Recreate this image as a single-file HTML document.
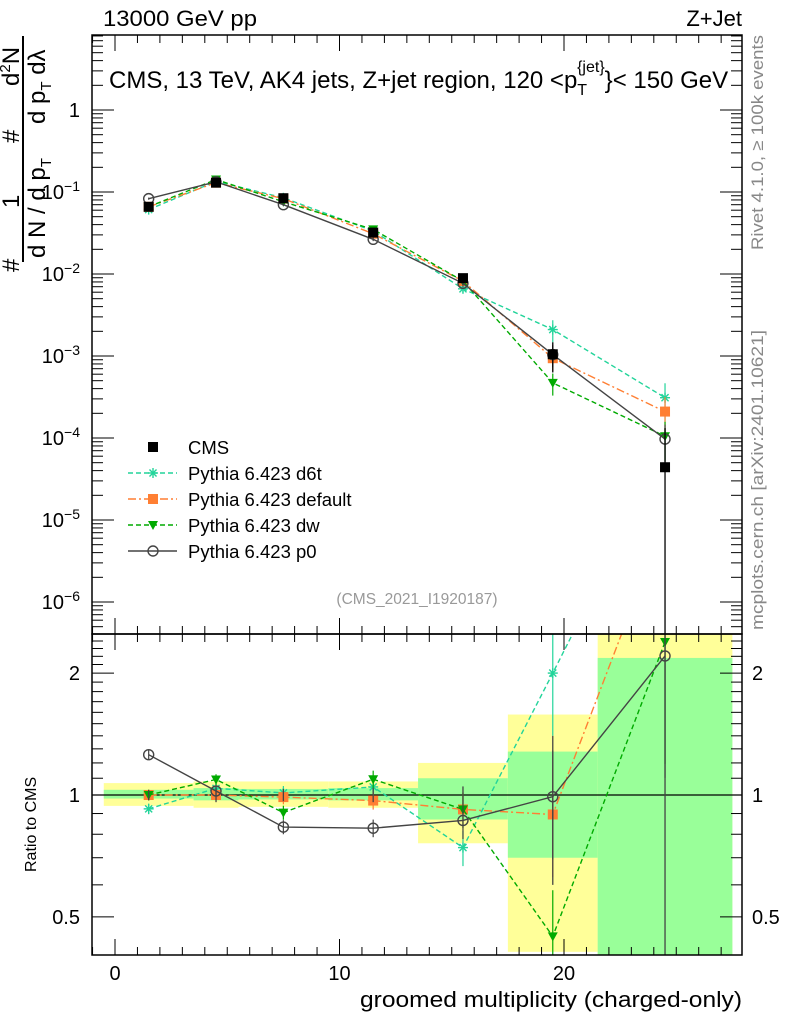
<!DOCTYPE html>
<html><head><meta charset="utf-8"><style>
body{margin:0;background:#fff;}
svg{display:block;font-family:"Liberation Sans",sans-serif;}
</style></head><body>
<svg id="chart" width="786" height="1024" viewBox="0 0 786 1024" xmlns="http://www.w3.org/2000/svg">
<g id="bands"></g>
<g id="marks"></g>
<g id="axes"></g>
<text x="103" y="26" font-size="22" textLength="154" lengthAdjust="spacingAndGlyphs">13000 GeV pp</text>
<text x="742" y="26" font-size="22" text-anchor="end">Z+Jet</text>
<text x="109" y="88" font-size="24">CMS, 13 TeV, AK4 jets, Z+jet region, 120 &lt;p<tspan font-size="16" dy="7">T</tspan><tspan font-size="16" dx="-10" dy="-23">{jet}</tspan><tspan dy="16">}&lt; 150 GeV</tspan></text>
<text x="417" y="604" font-size="15.5" fill="#999" text-anchor="middle">(CMS_2021_I1920187)</text>
<text transform="translate(763,250) rotate(-90)" font-size="17" fill="#888" textLength="215" lengthAdjust="spacingAndGlyphs">Rivet 4.1.0, ≥ 100k events</text>
<text transform="translate(763,630) rotate(-90)" font-size="17" fill="#888" textLength="300" lengthAdjust="spacingAndGlyphs">mcplots.cern.ch [arXiv:2401.10621]</text>
<g font-size="24">
<line x1="23" y1="36" x2="23" y2="262" stroke="#000" stroke-width="2"/>
<text transform="translate(19,272) rotate(-90)">#</text>
<text transform="translate(19,208) rotate(-90)">1</text>
<text transform="translate(19,143) rotate(-90)">#</text>
<text transform="translate(19,86) rotate(-90)">d<tspan font-size="15" dy="-9">2</tspan><tspan dy="9">N</tspan></text>
<text transform="translate(45,258) rotate(-90)">d N / d p<tspan font-size="15" dy="6">T</tspan></text>
<text transform="translate(45,124) rotate(-90)">d p<tspan font-size="15" dy="6">T</tspan><tspan dy="-6"> dλ</tspan></text>
</g>
<text transform="translate(36,872) rotate(-90)" font-size="16">Ratio to CMS</text>
<text x="742" y="1007" font-size="22" text-anchor="end" textLength="382" lengthAdjust="spacingAndGlyphs">groomed multiplicity (charged-only)</text>
<g id="legend"></g>
</svg>
<script>
const binCenters=[1.5,4.5,7.5,11.5,15.5,19.5,24.5];
const binEdges=[-0.5,3.5,5.5,9.5,13.5,17.5,21.5,27.5];
const cms=[0.066,0.13,0.084,0.032,0.0089,0.00105,4.4e-5];
const cmsRelErr=[0.03,0.04,0.035,0.04,0.05,0.4,2.0];
const d6t=[0.061,0.135,0.085,0.0335,0.0066,0.0021,3.1e-4];
const def=[0.066,0.13,0.083,0.031,0.0082,0.00094,2.1e-4];
const dw=[0.066,0.142,0.076,0.035,0.0082,0.00047,1.05e-4];
const p0=[0.083,0.133,0.07,0.0265,0.0077,0.00104,9.7e-5];
const mcRelErr=[0.03,0.03,0.04,0.05,0.1,0.3,0.5];
const yellowHi=[1.07,1.08,1.08,1.08,1.2,1.58,2.6];
const yellowLo=[0.94,0.93,0.935,0.93,0.76,0.41,0.3];
const greenHi=[1.03,1.04,1.035,1.04,1.1,1.28,2.18];
const greenLo=[0.98,0.97,0.975,0.97,0.87,0.70,0.3];
const xTicks=[0,10,20];
const yTickExp=[0,-1,-2,-3,-4,-5,-6];
const rTicks=[0.5,1,2];

const NS="http://www.w3.org/2000/svg";
const L=92,R=742,T=35,M=634,B=955;
const X=v=>115+v*22.45;
const Y=v=>110-Math.log10(v)*82;
const RY=v=>795-Math.log10(v)*405;
function mk(p,t,a){const e=document.createElementNS(NS,t);for(const k in a)e.setAttribute(k,a[k]);p.appendChild(e);return e;}
const bands=document.getElementById('bands'),marks=document.getElementById('marks'),axes=document.getElementById('axes'),leg=document.getElementById('legend');
const clipR=v=>Math.max(M,Math.min(B,v));
for(let i=0;i<binCenters.length;i++){
 const x0=X(binEdges[i]),x1=X(binEdges[i+1]);
 let y0=clipR(RY(yellowHi[i])),y1=clipR(RY(yellowLo[i]));
 const yb=mk(bands,'rect',{x:x0,y:y0,width:x1-x0,height:y1-y0,fill:'#ffff99'});
 
 
 y0=clipR(RY(greenHi[i]));y1=clipR(RY(greenLo[i]));
 const gb=mk(bands,'rect',{x:x0,y:y0,width:x1-x0,height:y1-y0,fill:'#99ff99'});
 
 
}
const defs=mk(document.getElementById('chart'),'defs',{});
const c1=mk(defs,'clipPath',{id:'cu'});mk(c1,'rect',{x:L,y:T,width:R-L,height:M-T});
const c2=mk(defs,'clipPath',{id:'cl'});mk(c2,'rect',{x:L,y:M,width:R-L,height:B-M});
const gu=mk(marks,'g',{'clip-path':'url(#cu)'});
const gl=mk(marks,'g',{'clip-path':'url(#cl)'});
mk(gl,'line',{x1:L,x2:R,y1:RY(1),y2:RY(1),stroke:'#000','stroke-width':1.3});
function marker(g,type,x,y,col){
 if(type==='sq')mk(g,'rect',{x:x-5,y:y-5,width:10,height:10,fill:col});
 else if(type==='tri')mk(g,'path',{d:`M${x-5},${y-4}L${x+5},${y-4}L${x},${y+5}Z`,fill:col});
 else if(type==='circ')mk(g,'circle',{cx:x,cy:y,r:5,fill:'none',stroke:col,'stroke-width':1.4});
 else if(type==='star'){for(let a=0;a<4;a++){const t=a*Math.PI/4;mk(g,'line',{x1:x-5*Math.cos(t),y1:y-5*Math.sin(t),x2:x+5*Math.cos(t),y2:y+5*Math.sin(t),stroke:col,'stroke-width':1.4});}}
}
const series=[
 {name:'d6t',vals:d6t,col:'#22d49a',dash:'5,3',mk:'star',label:'Pythia 6.423 d6t'},
 {name:'default',vals:def,col:'#ff7f33',dash:'8,3,2,3',mk:'sq',label:'Pythia 6.423 default'},
 {name:'dw',vals:dw,col:'#00aa00',dash:'5,3',mk:'tri',label:'Pythia 6.423 dw'},
 {name:'p0',vals:p0,col:'#444',dash:'',mk:'circ',label:'Pythia 6.423 p0'}
];
series.forEach(s=>{
 const gU=mk(gu,'g',{});
 const gL=mk(gl,'g',{});
 const ptsU=s.vals.map((v,i)=>X(binCenters[i])+','+Y(v)).join(' ');
 const ptsL=s.vals.map((v,i)=>X(binCenters[i])+','+RY(v/cms[i])).join(' ');
 mk(gU,'polyline',{points:ptsU,fill:'none',stroke:s.col,'stroke-width':1.4,'stroke-dasharray':s.dash});
 mk(gL,'polyline',{points:ptsL,fill:'none',stroke:s.col,'stroke-width':1.4,'stroke-dasharray':s.dash});
 s.vals.forEach((v,i)=>{
  const x=X(binCenters[i]),e=mcRelErr[i];
  mk(gU,'line',{x1:x,x2:x,y1:Y(v*(1+e)),y2:Y(v*Math.max(0.05,1-e)),stroke:s.col,'stroke-width':1.2});
  marker(gU,s.mk,x,Y(v),s.col);
  const r=v/cms[i];
  mk(gL,'line',{x1:x,x2:x,y1:RY(r*(1+e)),y2:RY(r*Math.max(0.05,1-e)),stroke:s.col,'stroke-width':1.2});
  marker(gL,s.mk,x,RY(r),s.col);
 });
});
const gc=mk(gu,'g',{});
const gcl=mk(gl,'g',{});
cms.forEach((v,i)=>{
 const x=X(binCenters[i]),e=cmsRelErr[i];
 mk(gc,'line',{x1:x,x2:x,y1:Y(v*(1+e)),y2:(1-e)>0?Y(v*(1-e)):M,stroke:'#000','stroke-width':1.3});
 marker(gc,'sq',x,Y(v),'#000');
 mk(gcl,'line',{x1:x,x2:x,y1:RY(1+e),y2:(1-e)>0?RY(1-e):B,stroke:'#444','stroke-width':1.3});
});
mk(axes,'rect',{x:L,y:T,width:R-L,height:M-T,fill:'none',stroke:'#000','stroke-width':1.5});
mk(axes,'rect',{x:L,y:M,width:R-L,height:B-M,fill:'none',stroke:'#000','stroke-width':1.5});
for(let v=-1;v<=28;v++){
 const x=X(v);if(x<L||x>R)continue;const big=v%10===0,h=big?16:8;
 mk(axes,'line',{x1:x,x2:x,y1:B,y2:B-h,stroke:'#000'});
 mk(axes,'line',{x1:x,x2:x,y1:M,y2:M+h,stroke:'#000'});
 mk(axes,'line',{x1:x,x2:x,y1:M,y2:M-h,stroke:'#000'});
 mk(axes,'line',{x1:x,x2:x,y1:T,y2:T+h,stroke:'#000'});
}
xTicks.forEach(v=>{const t=mk(axes,'text',{x:X(v),y:980,'font-size':20,'text-anchor':'middle'});t.textContent=v;
 });
for(let d=1;d>=-7;d--){for(let m=1;m<10;m++){const v=m*Math.pow(10,d);const y=Y(v);if(y<T||y>M)continue;const h=m===1?22:11;
 mk(axes,'line',{x1:L,x2:L+h,y1:y,y2:y,stroke:'#000'});mk(axes,'line',{x1:R,x2:R-h,y1:y,y2:y,stroke:'#000'});}}
yTickExp.forEach(d=>{const t=mk(axes,'text',{x:80,y:Y(Math.pow(10,d))+7,'font-size':20,'text-anchor':'end'});
 
 if(d===0)t.textContent='1';else{t.textContent='10';const s=mk(t,'tspan',{dy:-8,'font-size':14});s.textContent='−'+(-d);}});
for(let v=0.4;v<=2.55;v+=0.1){const y=RY(v);if(y<M||y>B)continue;const big=[0.5,1,2].some(k=>Math.abs(k-v)<1e-6);const h=big?22:11;
 mk(axes,'line',{x1:L,x2:L+h,y1:y,y2:y,stroke:'#000'});mk(axes,'line',{x1:R,x2:R-h,y1:y,y2:y,stroke:'#000'});}
rTicks.forEach(v=>{[80,752].forEach((x,j)=>{const t=mk(axes,'text',{x:x,y:RY(v)+7,'font-size':20,'text-anchor':j?'start':'end'});t.textContent=v;
 });});
const ly=[447,473,499,525,551];
{const g=mk(leg,'g',{});
 marker(g,'sq',153,ly[0],'#000');const t=mk(g,'text',{x:188,y:ly[0]+7,'font-size':18.5});t.textContent='CMS';}
series.forEach((s,k)=>{const g=mk(leg,'g',{});
 const y=ly[k+1];mk(g,'line',{x1:128,x2:177,y1:y,y2:y,stroke:s.col,'stroke-width':1.4,'stroke-dasharray':s.dash});
 marker(g,s.mk,153,y,s.col);const t=mk(g,'text',{x:188,y:y+7,'font-size':18.5});t.textContent=s.label;});
</script>
</body></html>
